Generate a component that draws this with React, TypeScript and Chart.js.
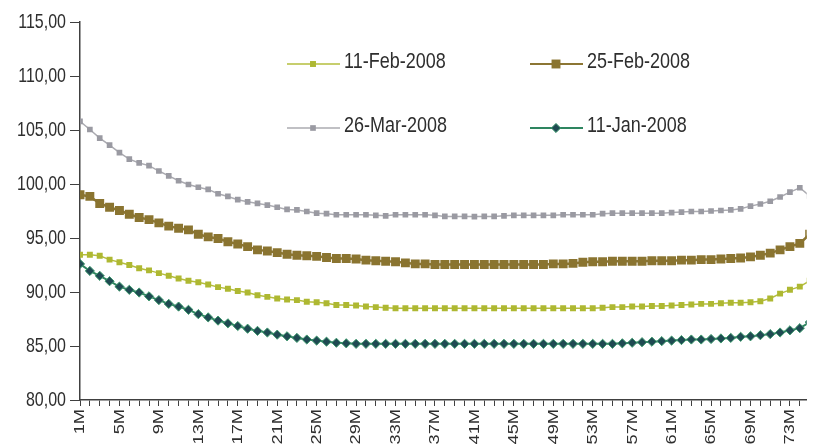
import React, { useEffect, useRef } from 'react';
import { Chart, registerables } from 'chart.js';

Chart.register(...registerables);

const months = [
  '1M', '2M', '3M', '4M', '5M', '6M', '7M', '8M', '9M', '10M',
  '11M', '12M', '13M', '14M', '15M', '16M', '17M', '18M', '19M', '20M',
  '21M', '22M', '23M', '24M', '25M', '26M', '27M', '28M', '29M', '30M',
  '31M', '32M', '33M', '34M', '35M', '36M', '37M', '38M', '39M', '40M',
  '41M', '42M', '43M', '44M', '45M', '46M', '47M', '48M', '49M', '50M',
  '51M', '52M', '53M', '54M', '55M', '56M', '57M', '58M', '59M', '60M',
  '61M', '62M', '63M', '64M', '65M', '66M', '67M', '68M', '69M', '70M',
  '71M', '72M', '73M', '74M', '75M',
];

const feb11 = [
  93.45, 93.45, 93.35, 93.0, 92.75, 92.5, 92.2, 92.0, 91.75, 91.5,
  91.25, 91.05, 90.9, 90.7, 90.45, 90.3, 90.1, 89.95, 89.7, 89.55,
  89.4, 89.3, 89.25, 89.1, 89.05, 88.95, 88.8, 88.8, 88.75, 88.65,
  88.6, 88.55, 88.5, 88.5, 88.5, 88.5, 88.5, 88.5, 88.5, 88.5,
  88.5, 88.5, 88.5, 88.5, 88.5, 88.5, 88.5, 88.5, 88.5, 88.5,
  88.5, 88.5, 88.5, 88.55, 88.6, 88.6, 88.65, 88.65, 88.7, 88.7,
  88.75, 88.8, 88.85, 88.9, 88.9, 88.95, 89.0, 89.0, 89.05, 89.15,
  89.4, 89.85, 90.2, 90.5, 91.05,
];

const feb25 = [
  99.0, 98.85, 98.2, 97.85, 97.55, 97.2, 96.9, 96.7, 96.4, 96.1,
  95.9, 95.75, 95.35, 95.1, 94.95, 94.65, 94.45, 94.2, 93.9, 93.8,
  93.65, 93.5, 93.4, 93.35, 93.3, 93.2, 93.1, 93.1, 93.05, 92.95,
  92.9, 92.85, 92.8, 92.7, 92.6, 92.6, 92.55, 92.55, 92.55, 92.55,
  92.55, 92.55, 92.55, 92.55, 92.55, 92.55, 92.55, 92.55, 92.6, 92.6,
  92.65, 92.75, 92.8, 92.8, 92.85, 92.85, 92.85, 92.85, 92.9, 92.9,
  92.9, 92.95, 92.95, 93.0, 93.0, 93.05, 93.1, 93.15, 93.25, 93.4,
  93.6, 93.9, 94.2, 94.5, 95.35,
];

const mar26 = [
  105.8, 105.05, 104.25, 103.6, 102.9, 102.3, 101.95, 101.7, 101.2, 100.75,
  100.3, 99.95, 99.7, 99.5, 99.1, 98.85, 98.55, 98.35, 98.2, 98.05,
  97.85, 97.65, 97.6, 97.45, 97.3, 97.25, 97.15, 97.15, 97.15, 97.15,
  97.1, 97.05, 97.15, 97.15, 97.15, 97.15, 97.1, 97.0, 97.0, 97.0,
  96.98, 97.0, 97.0, 97.05, 97.1, 97.1, 97.1, 97.1, 97.1, 97.15,
  97.15, 97.15, 97.15, 97.25, 97.3, 97.3, 97.3, 97.3, 97.3, 97.3,
  97.35, 97.4, 97.45, 97.45, 97.5, 97.55, 97.6, 97.7, 97.95, 98.15,
  98.4, 98.8, 99.25, 99.65, 98.9,
];

const jan11 = [
  92.6, 91.95, 91.5, 91.0, 90.5, 90.2, 89.95, 89.6, 89.25, 88.9,
  88.65, 88.35, 87.95, 87.65, 87.35, 87.1, 86.85, 86.6, 86.4, 86.25,
  86.05, 85.9, 85.75, 85.6, 85.5, 85.4, 85.3, 85.25, 85.2, 85.2,
  85.2, 85.2, 85.2, 85.2, 85.2, 85.2, 85.2, 85.2, 85.2, 85.2,
  85.2, 85.2, 85.2, 85.2, 85.2, 85.2, 85.2, 85.2, 85.2, 85.2,
  85.2, 85.2, 85.2, 85.2, 85.2, 85.25, 85.3, 85.35, 85.4, 85.45,
  85.5, 85.55, 85.6, 85.6, 85.65, 85.7, 85.75, 85.85, 85.9, 86.0,
  86.1, 86.25, 86.45, 86.65, 87.2,
];

const seriesNames = ['11-Feb-2008', '25-Feb-2008', '26-Mar-2008', '11-Jan-2008'];
const yMin = 80;
const yMax = 115;
const yStep = 5;

const SANS = '"Liberation Sans", Arial, sans-serif';
const TEXT = '#2e2e2e';
const AXIS = '#404040';
const HIDDEN = 'rgba(0,0,0,0)';
const STRETCH = 1.3;

// legend slot positions (layout only)
const legendSlots = [
  { x: 287, y: 64 },
  { x: 530, y: 64 },
  { x: 287, y: 128 },
  { x: 530, y: 128 },
];

function drawMarker(ctx: CanvasRenderingContext2D, ds: any, x: number, y: number) {
  const r = ds.pointRadius;
  ctx.save();
  ctx.fillStyle = ds.pointBackgroundColor;
  ctx.strokeStyle = ds.pointBorderColor;
  ctx.lineWidth = ds.pointBorderWidth;
  ctx.beginPath();
  if (ds.pointStyle === 'rectRot') {
    ctx.moveTo(x, y - r);
    ctx.lineTo(x + r, y);
    ctx.lineTo(x, y + r);
    ctx.lineTo(x - r, y);
    ctx.closePath();
  } else {
    const h = Math.SQRT1_2 * r;
    ctx.rect(x - h, y - h, 2 * h, 2 * h);
  }
  ctx.fill();
  if (ds.pointBorderWidth > 0) ctx.stroke();
  ctx.restore();
}

const gridLegend = {
  id: 'gridLegend',
  afterDraw(chart: any) {
    const ctx: CanvasRenderingContext2D = chart.ctx;
    chart.data.datasets.forEach((ds: any, i: number) => {
      const s = legendSlots[i];
      ctx.save();
      ctx.strokeStyle = ds.borderColor;
      ctx.lineWidth = Math.min(ds.borderWidth, 2);
      ctx.beginPath();
      ctx.moveTo(s.x, s.y);
      ctx.lineTo(s.x + 53, s.y);
      ctx.stroke();
      ctx.restore();
      drawMarker(ctx, ds, s.x + 26, s.y);
      ctx.save();
      ctx.fillStyle = TEXT;
      ctx.font = `18px ${SANS}`;
      ctx.textAlign = 'left';
      ctx.textBaseline = 'middle';
      ctx.translate(s.x + 57, s.y - 2);
      ctx.scale(1, 1.2);
      ctx.fillText(ds.label, 0, 0);
      ctx.restore();
    });
  },
};

// draws the axes' tick labels in the reference's tall, narrow lettering
const tallTickLabels = {
  id: 'tallTickLabels',
  afterDraw(chart: any) {
    const ctx: CanvasRenderingContext2D = chart.ctx;
    const area = chart.chartArea;
    const ys = chart.scales.y;
    const xs = chart.scales.x;
    ctx.save();
    ctx.fillStyle = TEXT;
    ctx.textAlign = 'right';
    ctx.textBaseline = 'middle';
    ctx.font = `16px ${SANS}`;
    ys.ticks.forEach((t: any) => {
      const y = ys.getPixelForValue(t.value);
      ctx.save();
      ctx.translate(area.left - 14, y);
      ctx.scale(1, STRETCH);
      ctx.fillText(t.label, 0, 0);
      ctx.restore();
    });
    ctx.font = `14px ${SANS}`;
    xs.ticks.forEach((t: any) => {
      if (!t.label) return;
      const x = xs.getPixelForValue(t.value);
      ctx.save();
      ctx.translate(x + 0.5, area.bottom + 9);
      ctx.rotate(-Math.PI / 2);
      ctx.scale(STRETCH, 1);
      ctx.fillText(t.label, 0, 0);
      ctx.restore();
    });
    ctx.restore();
  },
};

const toPoints = (arr: number[]) => arr.map((v, i) => ({ x: i, y: v }));

export default function App() {
  const ref = useRef<HTMLCanvasElement | null>(null);

  useEffect(() => {
    if (!ref.current) return;
    const chart = new Chart(ref.current, {
      type: 'line',
      data: {
        datasets: [
          {
            label: seriesNames[0],
            data: toPoints(feb11),
            borderColor: '#B5BE3C',
            borderWidth: 1.5,
            pointStyle: 'rect',
            pointRadius: 4.2,
            pointBackgroundColor: '#AEB832',
            pointBorderColor: '#AEB832',
            pointBorderWidth: 0,
          },
          {
            label: seriesNames[1],
            data: toPoints(feb25),
            borderColor: '#8C7634',
            borderWidth: 2.5,
            pointStyle: 'rect',
            pointRadius: 6.3,
            pointBackgroundColor: '#8A7430',
            pointBorderColor: '#8A7430',
            pointBorderWidth: 0,
          },
          {
            label: seriesNames[2],
            data: toPoints(mar26),
            borderColor: '#ABABB1',
            borderWidth: 1.5,
            pointStyle: 'rect',
            pointRadius: 4,
            pointBackgroundColor: '#9A9AA2',
            pointBorderColor: '#9A9AA2',
            pointBorderWidth: 0,
          },
          {
            label: seriesNames[3],
            data: toPoints(jan11),
            borderColor: '#2E8560',
            borderWidth: 2,
            pointStyle: 'rectRot',
            pointRadius: 4.6,
            pointBackgroundColor: '#1F4A52',
            pointBorderColor: '#3E9A6E',
            pointBorderWidth: 1,
          },
        ],
      } as any,
      options: {
        responsive: false,
        maintainAspectRatio: false,
        animation: false,
        layout: { padding: { top: 22, left: 0, right: 0, bottom: 0 } },
        plugins: {
          legend: { display: false },
          tooltip: { enabled: false },
        },
        elements: { line: { tension: 0 } },
        scales: {
          x: {
            type: 'linear',
            min: 0,
            max: 73.7,
            grid: {
              display: true,
              drawOnChartArea: false,
              drawTicks: true,
              tickLength: 6,
              color: AXIS,
              lineWidth: 1,
            },
            border: { display: true, color: AXIS, width: 1.5 },
            ticks: {
              stepSize: 1,
              maxTicksLimit: 500,
              includeBounds: false,
              autoSkip: false,
              maxRotation: 90,
              minRotation: 90,
              padding: 2,
              color: HIDDEN,
              font: { family: SANS, size: 12 },
              callback: (v: any) => {
                const i = Math.round(Number(v));
                return i % 4 === 0 && months[i] ? months[i] : '';
              },
            },
            afterFit: (s: any) => {
              s.height = 44;
              s.paddingLeft = 0;
              s.paddingRight = 0;
            },
          },
          y: {
            min: yMin,
            max: yMax,
            grid: {
              display: true,
              drawOnChartArea: false,
              drawTicks: true,
              tickLength: 10,
              color: AXIS,
              lineWidth: 1,
            },
            border: { display: true, color: AXIS, width: 1.5 },
            ticks: {
              stepSize: yStep,
              padding: 4,
              color: HIDDEN,
              font: { family: SANS, size: 16 },
              callback: (v: any) => Number(v).toFixed(2).replace('.', ','),
            },
            afterFit: (s: any) => {
              s.width = 80;
            },
          },
        },
      } as any,
      plugins: [gridLegend, tallTickLabels],
    });
    return () => chart.destroy();
  }, []);

  return (
    <div style={{ position: 'absolute', left: 0, top: 0, width: 813, height: 444, background: '#fff' }}>
      <canvas ref={ref} width={813} height={444} style={{ width: 813, height: 444, display: 'block' }} />
    </div>
  );
}
